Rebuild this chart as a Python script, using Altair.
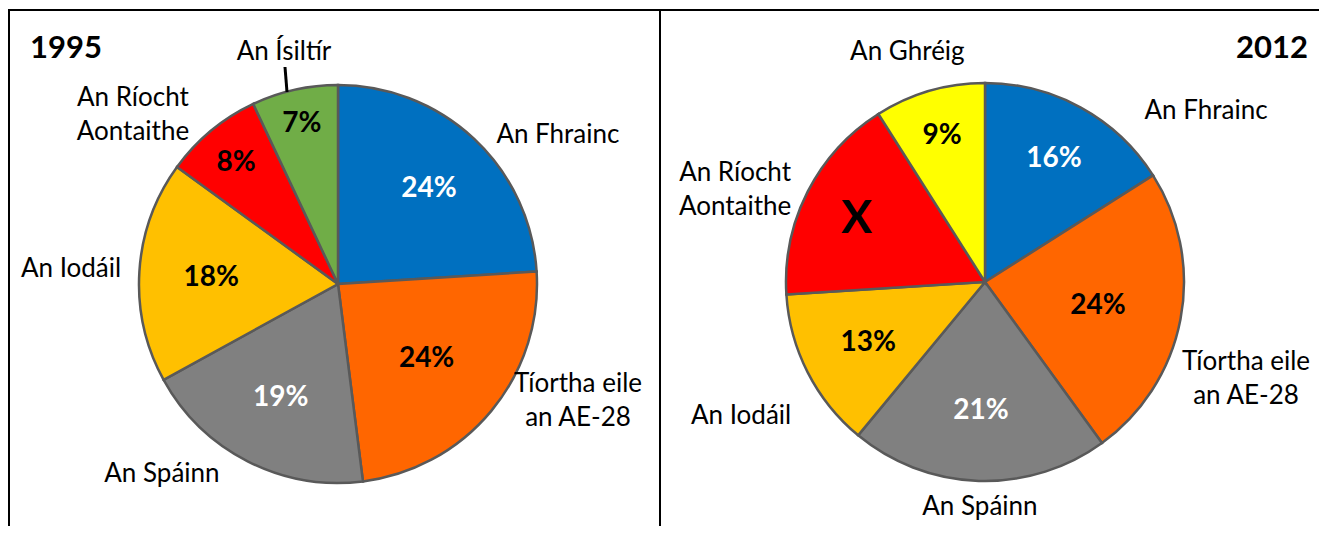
import altair as alt
import pandas as pd

# ---------------- data ----------------
countries_1995 = ["An Fhrainc", "Tíortha eile\nan AE-28", "An Spáinn", "An Iodáil",
                  "An Ríocht\nAontaithe", "An Ísiltír"]
shares_1995 = [24, 24, 19, 18, 8, 7]
labels_1995 = ["24%", "24%", "19%", "18%", "8%", "7%"]

countries_2012 = ["An Fhrainc", "Tíortha eile\nan AE-28", "An Spáinn", "An Iodáil",
                  "An Ríocht\nAontaithe", "An Ghréig"]
shares_2012 = [16, 24, 21, 13, 17, 9]
labels_2012 = ["16%", "24%", "21%", "13%", "X", "9%"]

years = ["1995", "2012"]

# ---------------- style / layout ----------------
palette_domain = ["An Fhrainc", "Tíortha eile\nan AE-28", "An Spáinn", "An Iodáil",
                  "An Ríocht\nAontaithe", "An Ísiltír", "An Ghréig"]
palette_range = ["#0070C0", "#FF6600", "#808080", "#FFC000", "#FF0000", "#70AD47", "#FFFF00"]
white_label_countries = ["An Fhrainc", "An Spáinn"]

W, H = 1311, 518
CENTERS = [(330, 276), (977, 274)]
R = 199
FONT = "Lato"
# radial distance (px) of the percentage labels
pct_label_r = [[133, 115, 126, 127, 160, 166],
               [143, 115, 127, 131, 144, 154]]
# polar placement (angle in % of the circle, radius px) of category labels
cat_label_angle = [[15.42, 31.17, 61.98, 76.0, 86.81, 96.39],
                   [14.43, 29.62, 50.36, 67.1, 81.63, 94.86]]
cat_label_r = [[266.8, 259.2, 257.5, 267.5, 278.2, 240.2],
               [280.7, 272.4, 223.1, 277.4, 273.3, 244.6]]

theta_scale = alt.Scale(domain=[0, 100])
color_scale = alt.Scale(domain=palette_domain, range=palette_range)


def pie(countries, shares, labels, center, pr, ca, cr):
    df = pd.DataFrame({
        "country": countries,
        "share": shares,
        "label": labels,
        "idx": list(range(len(countries))),
        "lr": pr,
        "ca": ca,
        "cr": cr,
    })
    base = alt.Chart(df)
    cx, cy = alt.value(center[0]), alt.value(center[1])
    arcs = base.mark_arc(radius=R, stroke="#595959", strokeWidth=2.5).encode(
        x=cx, y=cy,
        theta=alt.Theta("share:Q", stack=True, scale=theta_scale),
        color=alt.Color("country:N", scale=color_scale, legend=None),
        order=alt.Order("idx:Q"),
    )
    pct = base.transform_window(
        cum="sum(share)", sort=[alt.SortField("idx")]
    ).transform_calculate(
        mid="datum.cum - datum.share / 2"
    ).mark_text(font=FONT, fontWeight="bold", dy=2).encode(
        x=cx, y=cy,
        theta=alt.Theta("mid:Q", scale=theta_scale),
        radius=alt.Radius("lr:Q", scale=None),
        text="label:N",
        color=alt.condition(
            alt.FieldOneOfPredicate(field="country", oneOf=white_label_countries),
            alt.value("white"), alt.value("black")),
        size=alt.condition(alt.datum.label == "X", alt.value(46), alt.value(28)),
    )
    cats = base.mark_text(font=FONT, fontSize=26, lineBreak="\n", lineHeight=34,
                          dy=2, color="black").encode(
        x=cx, y=cy,
        theta=alt.Theta("ca:Q", scale=theta_scale),
        radius=alt.Radius("cr:Q", scale=None),
        text="country:N",
    )
    return [arcs, pct, cats]


layers = []
layers += pie(countries_1995, shares_1995, labels_1995, CENTERS[0],
              pct_label_r[0], cat_label_angle[0], cat_label_r[0])
layers += pie(countries_2012, shares_2012, labels_2012, CENTERS[1],
              pct_label_r[1], cat_label_angle[1], cat_label_r[1])

# frame lines
top_line = alt.Chart().mark_rule(color="black", strokeWidth=2).encode(
    x=alt.value(0), x2=alt.value(W), y=alt.value(2), y2=alt.value(2))
left_line = alt.Chart().mark_rule(color="black", strokeWidth=2).encode(
    x=alt.value(1), x2=alt.value(1), y=alt.value(2), y2=alt.value(H))
mid_line = alt.Chart().mark_rule(color="black", strokeWidth=2).encode(
    x=alt.value(652), x2=alt.value(652), y=alt.value(2), y2=alt.value(H))
# leader line for An Ísiltír
leader = alt.Chart().mark_rule(color="black", strokeWidth=3).encode(
    x=alt.value(277), x2=alt.value(279), y=alt.value(59), y2=alt.value(84))

year_left = alt.Chart().mark_text(text=years[0], font=FONT, fontWeight="bold", fontSize=31,
                                  align="left", baseline="alphabetic").encode(
    x=alt.value(22), y=alt.value(50))
year_right = alt.Chart().mark_text(text=years[1], font=FONT, fontWeight="bold", fontSize=31,
                                   align="right", baseline="alphabetic").encode(
    x=alt.value(1300), y=alt.value(50))

layers += [top_line, left_line, mid_line, leader, year_left, year_right]

chart = alt.layer(*layers).properties(
    width=W, height=H, padding=0,
    autosize=alt.AutoSizeParams(type="none"),
).configure_view(stroke=None)

chart.save("out.html", embed_options={"renderer": "svg", "actions": False})
